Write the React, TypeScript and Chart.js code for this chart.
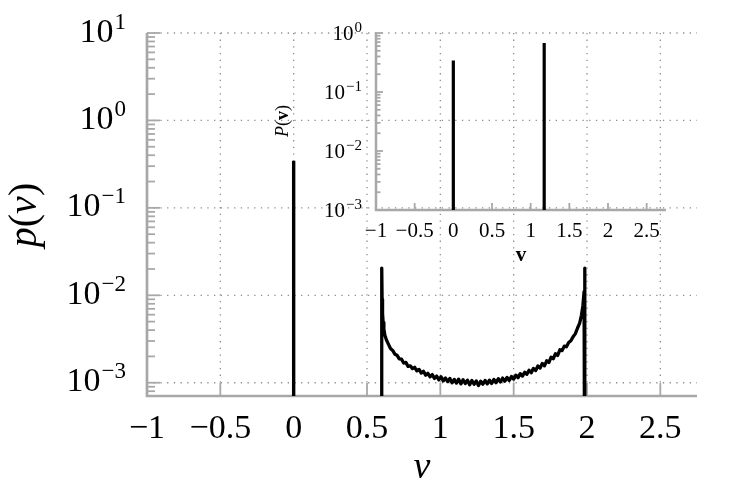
import React, { useEffect, useRef } from "react";
import { Chart, registerables } from "chart.js";
Chart.register(...registerables);

const FONT = '"Liberation Serif", "DejaVu Serif", serif';

// ---------- main plot data ----------
// atom (delta peak) at v = 0
const atomV = [0, 0];
const atomP = [1e-5, 0.345];

// continuous band between v = 0.6 and v = 2
const bandV = [
  0.6005, 0.6005, 0.603, 0.606, 0.61, 0.615, 0.622, 0.632, 0.645, 0.66, 0.675, 0.69, 0.705, 0.72,
  0.735, 0.75, 0.765, 0.78, 0.795, 0.81, 0.825, 0.84, 0.855, 0.87, 0.885, 0.9, 0.915, 0.93, 0.945,
  0.96, 0.975, 0.99, 1.005, 1.02, 1.035, 1.05, 1.065, 1.08, 1.095, 1.11, 1.125, 1.14, 1.155, 1.17,
  1.185, 1.2, 1.215, 1.23, 1.245, 1.26, 1.275, 1.29, 1.305, 1.32, 1.335, 1.35, 1.365, 1.38, 1.395,
  1.41, 1.425, 1.44, 1.455, 1.47, 1.485, 1.5, 1.515, 1.53, 1.545, 1.56, 1.575, 1.59, 1.605, 1.62,
  1.635, 1.65, 1.665, 1.68, 1.695, 1.71, 1.725, 1.74, 1.755, 1.77, 1.785, 1.8, 1.815, 1.83, 1.845,
  1.86, 1.875, 1.89, 1.905, 1.92, 1.935, 1.95, 1.962, 1.972, 1.98, 1.985, 1.985,
];
const bandP = [
  1e-5, 0.0205, 0.009, 0.0062, 0.0049, 0.0041, 0.0035, 0.0031, 0.00278, 0.00246, 0.00234, 0.00212,
  0.00206, 0.00188, 0.00186, 0.00168, 0.00171, 0.00154, 0.00156, 0.00145, 0.0015, 0.00137, 0.00142,
  0.00129, 0.00135, 0.00122, 0.00128, 0.00117, 0.00124, 0.00112, 0.00119, 0.00108, 0.00117, 0.00105,
  0.00113, 0.00103, 0.00112, 0.001, 0.00109, 0.00099, 0.0011, 0.00097, 0.00108, 0.00098, 0.00107,
  0.00095, 0.00106, 0.00096, 0.00105, 0.00093, 0.00104, 0.00096, 0.00106, 0.00097, 0.00107, 0.00098,
  0.00109, 0.001, 0.00111, 0.00102, 0.00113, 0.00104, 0.00115, 0.00106, 0.00118, 0.0011, 0.00122,
  0.00114, 0.00127, 0.00119, 0.00132, 0.00125, 0.00139, 0.0013, 0.00146, 0.00138, 0.00155, 0.00147,
  0.00166, 0.00156, 0.00178, 0.0017, 0.00196, 0.00188, 0.00215, 0.00205, 0.00238, 0.00233, 0.00262,
  0.00258, 0.00288, 0.00302, 0.00335, 0.00362, 0.0042, 0.0048, 0.0059, 0.0076, 0.011, 0.0204, 1e-5,
];

// ---------- inset data ----------
const insetAtom1V = [0, 0];
const insetAtom1P = [1e-5, 0.343];
const insetAtom2V = [1.175, 1.175];
const insetAtom2P = [1e-5, 0.676];

// ---------- ticks ----------
const xTicks = [-1, -0.5, 0, 0.5, 1, 1.5, 2, 2.5];
const xTickLabels = ["\u22121", "\u22120.5", "0", "0.5", "1", "1.5", "2", "2.5"];
const mainYTicks = [1e-3, 1e-2, 1e-1, 1, 10];
const mainYExp = ["\u22123", "\u22122", "\u22121", "0", "1"];
const insetYTicks = [1e-3, 1e-2, 1e-1, 1];
const insetYExp = ["\u22123", "\u22122", "\u22121", "0"];

const AXIS_COLOR = "#a8a8a8";
const GRID_COLOR = "#8e8e8e";

type Cfg = {
  grid: boolean;
  yTicks: number[];
  yExp: string[];
  majorLen: number;
  minorLen: number;
  axisWidth: number;
  baseFont: number;
  supFont: number;
  raise: number;
  yLabelRight: number;
  yLabelDrop: number;
  xLabelBaseline: number;
  drawTitles: (ctx: CanvasRenderingContext2D) => void;
};

function makePlugin(cfg: Cfg) {
  return {
    id: "customAxes",
    beforeDatasetsDraw(chart: any) {
      const { ctx, chartArea } = chart;
      const { left, right, top, bottom } = chartArea;
      const xs = chart.scales.x;
      const ys = chart.scales.y;
      ctx.save();
      if (cfg.grid) {
        ctx.strokeStyle = GRID_COLOR;
        ctx.lineWidth = 1.3;
        ctx.setLineDash([1.3, 5.4]);
        for (const t of xTicks) {
          const px = xs.getPixelForValue(t);
          if (px <= left + 2) continue;
          ctx.beginPath();
          ctx.moveTo(px, bottom);
          ctx.lineTo(px, top);
          ctx.stroke();
        }
        for (const t of cfg.yTicks) {
          const py = ys.getPixelForValue(t);
          ctx.beginPath();
          ctx.moveTo(left, py);
          ctx.lineTo(right, py);
          ctx.stroke();
        }
        ctx.setLineDash([]);
      }
      ctx.strokeStyle = AXIS_COLOR;
      ctx.lineWidth = 1.8;
      for (const t of xTicks) {
        const px = xs.getPixelForValue(t);
        if (px <= left + 2) continue;
        ctx.beginPath();
        ctx.moveTo(px, bottom);
        ctx.lineTo(px, bottom - cfg.majorLen);
        ctx.stroke();
      }
      const ymin = ys.min;
      const ymax = ys.max;
      for (let d = -5; d <= 2; d++) {
        for (let m = 1; m <= 9; m++) {
          const v = m * Math.pow(10, d);
          if (v < ymin * 0.999 || v > ymax * 1.001) continue;
          const py = ys.getPixelForValue(v);
          ctx.beginPath();
          ctx.moveTo(left, py);
          ctx.lineTo(left + (m === 1 ? cfg.majorLen : cfg.minorLen), py);
          ctx.stroke();
        }
      }
      ctx.lineWidth = cfg.axisWidth;
      ctx.beginPath();
      ctx.moveTo(left, top);
      ctx.lineTo(left, bottom);
      ctx.lineTo(right, bottom);
      ctx.stroke();
      ctx.restore();
    },
    afterDraw(chart: any) {
      const { ctx } = chart;
      const xs = chart.scales.x;
      const ys = chart.scales.y;
      ctx.save();
      ctx.fillStyle = "#000";
      ctx.textBaseline = "alphabetic";
      ctx.font = `${cfg.baseFont}px ${FONT}`;
      ctx.textAlign = "center";
      xTicks.forEach((t, i) => {
        ctx.fillText(xTickLabels[i], xs.getPixelForValue(t), cfg.xLabelBaseline);
      });
      ctx.textAlign = "left";
      cfg.yTicks.forEach((t, i) => {
        const base = ys.getPixelForValue(t) + cfg.yLabelDrop;
        ctx.font = `${cfg.supFont}px ${FONT}`;
        const sw = ctx.measureText(cfg.yExp[i]).width;
        ctx.fillText(cfg.yExp[i], cfg.yLabelRight - sw, base - cfg.raise);
        ctx.font = `${cfg.baseFont}px ${FONT}`;
        const bw = ctx.measureText("10").width;
        ctx.fillText("10", cfg.yLabelRight - sw - bw - 1, base);
      });
      cfg.drawTitles(ctx);
      ctx.restore();
    },
  };
}

function drawPieces(
  ctx: CanvasRenderingContext2D,
  pieces: { t: string; f: string }[],
  cx: number,
  cy: number,
  rotate: boolean,
  baseOff: number
) {
  ctx.save();
  ctx.translate(cx, cy);
  if (rotate) ctx.rotate(-Math.PI / 2);
  let total = 0;
  const widths = pieces.map((p) => {
    ctx.font = p.f;
    const w = ctx.measureText(p.t).width;
    total += w;
    return w;
  });
  let x = -total / 2;
  ctx.textAlign = "left";
  ctx.textBaseline = "alphabetic";
  pieces.forEach((p, i) => {
    ctx.font = p.f;
    ctx.fillText(p.t, x, baseOff);
    x += widths[i];
  });
  ctx.restore();
}

const mainCfg: Cfg = {
  grid: true,
  yTicks: mainYTicks,
  yExp: mainYExp,
  majorLen: 13,
  minorLen: 8,
  axisWidth: 2.7,
  baseFont: 34,
  supFont: 23,
  raise: 13,
  yLabelRight: 126,
  yLabelDrop: 8.5,
  xLabelBaseline: 438,
  drawTitles: (ctx) => {
    drawPieces(
      ctx,
      [
        { t: "p", f: `italic 40px ${FONT}` },
        { t: "(", f: `40px ${FONT}` },
        { t: "v", f: `italic 40px ${FONT}` },
        { t: ")", f: `40px ${FONT}` },
      ],
      26,
      215,
      true,
      10
    );
    drawPieces(ctx, [{ t: "v", f: `italic 38px ${FONT}` }], 422, 470, false, 8);
  },
};

const insetCfg: Cfg = {
  grid: false,
  yTicks: insetYTicks,
  yExp: insetYExp,
  majorLen: 7,
  minorLen: 4.5,
  axisWidth: 2.5,
  baseFont: 21,
  supFont: 15,
  raise: 8,
  yLabelRight: 362,
  yLabelDrop: 7,
  xLabelBaseline: 237,
  drawTitles: (ctx) => {
    drawPieces(
      ctx,
      [
        { t: "P", f: `italic 18px ${FONT}` },
        { t: "(", f: `18px ${FONT}` },
        { t: "v", f: `bold 18px ${FONT}` },
        { t: ")", f: `18px ${FONT}` },
      ],
      283,
      121,
      true,
      5
    );
    drawPieces(ctx, [{ t: "v", f: `bold 21px ${FONT}` }], 521, 255, false, 6);
  },
};

function lineDs(vs: number[], ps: number[], w: number) {
  return {
    data: vs.map((v, i) => ({ x: v, y: ps[i] })),
    borderColor: "#000",
    borderWidth: w,
    pointRadius: 0,
    fill: false,
    tension: 0,
    borderJoinStyle: "round" as const,
  };
}

export default function App() {
  const mainRef = useRef<HTMLCanvasElement | null>(null);
  const insetRef = useRef<HTMLCanvasElement | null>(null);

  useEffect(() => {
    const main = new Chart(mainRef.current!, {
      type: "line",
      data: {
        datasets: [lineDs(atomV, atomP, 3.4), lineDs(bandV, bandP, 3.3)] as any,
      },
      options: {
        responsive: false,
        animation: false,
        devicePixelRatio: 1,
        layout: { padding: { left: 0, right: 50, top: 33, bottom: 0 } },
        plugins: { legend: { display: false }, tooltip: { enabled: false } },
        scales: {
          x: {
            type: "linear",
            min: -1,
            max: 2.75,
            ticks: { display: false },
            grid: { display: false },
            border: { display: false },
            afterFit: (s: any) => {
              s.height = 102;
            },
          },
          y: {
            type: "logarithmic",
            min: 7.05e-4,
            max: 10,
            ticks: { display: false },
            grid: { display: false },
            border: { display: false },
            afterFit: (s: any) => {
              s.width = 147;
            },
          },
        },
      } as any,
      plugins: [makePlugin(mainCfg)],
    });

    const inset = new Chart(insetRef.current!, {
      type: "line",
      data: {
        datasets: [
          lineDs(insetAtom1V, insetAtom1P, 3.2),
          lineDs(insetAtom2V, insetAtom2P, 3.2),
        ] as any,
      },
      options: {
        responsive: false,
        animation: false,
        devicePixelRatio: 1,
        layout: { padding: { left: 0, right: 81, top: 33, bottom: 0 } },
        plugins: { legend: { display: false }, tooltip: { enabled: false } },
        scales: {
          x: {
            type: "linear",
            min: -1,
            max: 2.75,
            ticks: { display: false },
            grid: { display: false },
            border: { display: false },
            afterFit: (s: any) => {
              s.height = 288;
            },
          },
          y: {
            type: "logarithmic",
            min: 1e-3,
            max: 1,
            ticks: { display: false },
            grid: { display: false },
            border: { display: false },
            afterFit: (s: any) => {
              s.width = 376;
            },
          },
        },
      } as any,
      plugins: [makePlugin(insetCfg)],
    });

    return () => {
      main.destroy();
      inset.destroy();
    };
  }, []);

  return (
    <div style={{ position: "absolute", left: 0, top: 0, width: 747, height: 498, background: "#fff" }}>
      <canvas
        ref={mainRef}
        width={747}
        height={498}
        style={{ position: "absolute", left: 0, top: 0, width: 747, height: 498 }}
      />
      <canvas
        ref={insetRef}
        width={747}
        height={498}
        style={{ position: "absolute", left: 0, top: 0, width: 747, height: 498 }}
      />
    </div>
  );
}
